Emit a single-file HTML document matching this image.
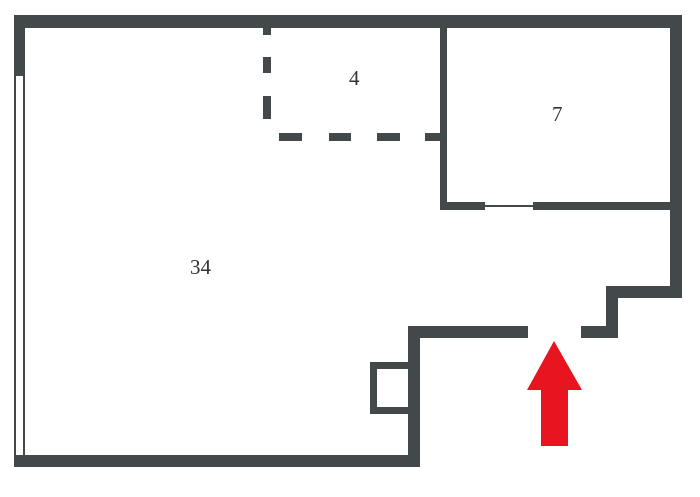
<!DOCTYPE html>
<html><head><style>
body{margin:0;background:#fff;width:700px;height:497px;overflow:hidden}
.w{position:absolute;background:#43484b}
.t{position:absolute;font-family:"Liberation Serif",serif;font-size:21px;color:#333;line-height:1}
</style></head><body>
<div class="w" style="left:14px;top:15px;width:668px;height:13px"></div>
<div class="w" style="left:14px;top:15px;width:11px;height:61px"></div>
<div class="w" style="left:14px;top:76px;width:2px;height:380px"></div>
<div class="w" style="left:23px;top:76px;width:2px;height:380px"></div>
<div class="w" style="left:14px;top:455px;width:406px;height:12px"></div>
<div class="w" style="left:670px;top:15px;width:12px;height:283px"></div>
<div class="w" style="left:606px;top:286px;width:76px;height:12px"></div>
<div class="w" style="left:606px;top:286px;width:12px;height:52px"></div>
<div class="w" style="left:581px;top:326px;width:37px;height:12px"></div>
<div class="w" style="left:408px;top:326px;width:120px;height:12px"></div>
<div class="w" style="left:408px;top:326px;width:12px;height:141px"></div>
<div style="position:absolute;left:370px;top:362px;width:31px;height:38px;border:7px solid #43484b;border-right:none"></div>
<div class="w" style="left:440px;top:15px;width:7px;height:195px"></div>
<div class="w" style="left:440px;top:202px;width:45px;height:8px"></div>
<div class="w" style="left:485px;top:205px;width:48px;height:2px"></div>
<div class="w" style="left:533px;top:202px;width:140px;height:8px"></div>
<div class="w" style="left:263px;top:28px;width:8px;height:7px"></div>
<div class="w" style="left:263px;top:57px;width:8px;height:16px"></div>
<div class="w" style="left:263px;top:96px;width:8px;height:23px"></div>
<div class="w" style="left:279px;top:133px;width:23px;height:8px"></div>
<div class="w" style="left:329px;top:133px;width:22px;height:8px"></div>
<div class="w" style="left:377px;top:133px;width:23px;height:8px"></div>
<div class="w" style="left:425px;top:133px;width:17px;height:8px"></div>
<div class="t" style="left:190px;top:257px">34</div>
<div class="t" style="left:349px;top:68px">4</div>
<div class="t" style="left:552px;top:104px">7</div>
<svg style="position:absolute;left:0;top:0" width="700" height="497">
<polygon points="554,341 582,390 568,390 568,446 541,446 541,390 527,390" fill="#e8141f"/>
</svg>
</body></html>
